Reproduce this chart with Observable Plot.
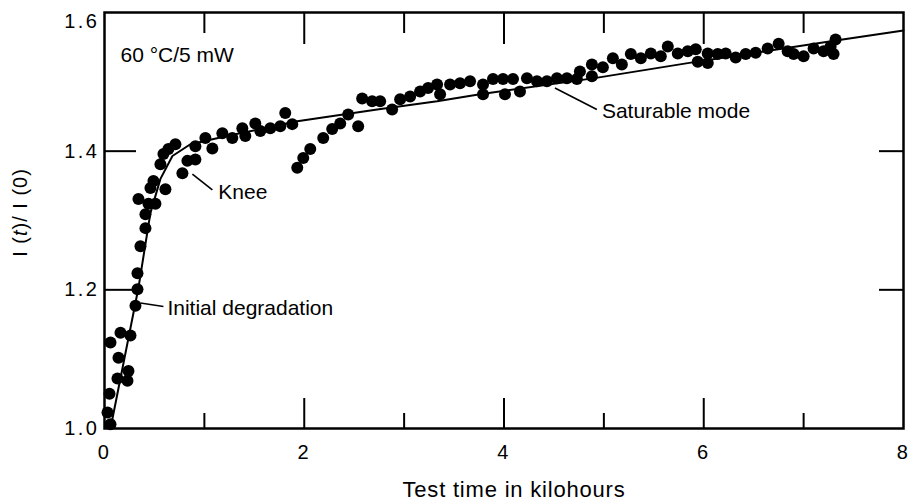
<!DOCTYPE html>
<html><head><meta charset="utf-8">
<script src="https://cdn.jsdelivr.net/npm/d3@7"></script>
<script src="https://cdn.jsdelivr.net/npm/@observablehq/plot@0.6"></script>
<style>
html,body{margin:0;padding:0;background:#fff;}
#chart svg{display:block;}
</style></head><body><div id="chart"></div>
<script>
// Measured points: test time (kilohours) and I(t)/I(0)
const timeKh = [0.06,0.03,0.05,0.13,0.23,0.24,0.14,0.06,0.16,0.26,0.31,0.33,0.33,0.36,0.41,0.41,0.44,0.34,0.51,0.46,0.61,0.49,0.56,0.59,0.64,0.71,0.78,0.83,0.91,0.91,1.01,1.08,1.18,1.28,1.38,1.41,1.51,1.56,1.66,1.76,1.81,1.88,
  1.93,1.99,2.06,2.19,2.28,2.36,2.44,2.54,2.58,2.68,2.76,2.88,2.96,3.06,3.16,3.24,3.33,3.36,3.46,3.56,3.66,3.79,3.79,3.89,3.99,4.01,4.09,4.16,4.23,4.33,4.43,4.53,4.63,4.73,4.76,4.88,4.88,4.99,
  5.09,5.18,5.27,5.37,5.47,5.57,5.64,5.74,5.84,5.92,5.94,6.04,6.04,6.14,6.22,6.32,6.42,6.52,6.64,6.75,6.84,6.90,7.00,7.10,7.20,7.27,7.30,7.32];
const ratio = [1.006,1.023,1.050,1.072,1.069,1.083,1.102,1.124,1.138,1.134,1.177,1.201,1.224,1.263,1.289,1.309,1.324,1.331,1.324,1.347,1.345,1.357,1.381,1.396,1.403,1.410,1.368,1.386,1.388,1.407,1.419,1.404,1.426,1.419,1.433,1.422,1.440,1.429,1.433,1.436,1.455,1.439,
  1.376,1.390,1.403,1.419,1.432,1.440,1.453,1.436,1.476,1.472,1.472,1.460,1.475,1.479,1.486,1.491,1.496,1.482,1.496,1.498,1.501,1.496,1.482,1.504,1.504,1.482,1.504,1.486,1.505,1.501,1.501,1.505,1.505,1.504,1.515,1.525,1.508,1.521,
  1.534,1.525,1.540,1.534,1.541,1.537,1.551,1.541,1.544,1.547,1.529,1.527,1.541,1.540,1.541,1.535,1.540,1.542,1.548,1.555,1.544,1.540,1.537,1.548,1.544,1.551,1.540,1.561];

// Fitted curve (initial degradation + saturable mode)
const fitTime  = [0.06,0.34,0.46,0.56,0.68,0.86,1.26,1.93,2.73,3.33,3.76,4.89,5.84,7.39,8.0];
const fitRatio = [1.000,1.203,1.311,1.360,1.393,1.410,1.423,1.443,1.460,1.472,1.482,1.505,1.527,1.561,1.574];

// Axes
const xLabelTicks = [0,2,4,6,8];
const xMajorTicks = [2,4,6];
const xMinorTicks = [1,3,5,7];
const yLabelTicks = [1.0,1.2,1.4];
const yTopLabel = [1.6];
const yInnerTicks = [1.2,1.4];
const xTitle = "Test time in kilohours";
const yTitle = "I (t)/ I (0)";

// Annotations
const noteText = ["60 °C/5 mW","Knee","Initial degradation","Saturable mode"];
const noteX = [0.16,1.14,0.63,4.98];
const noteY = [1.538,1.341,1.173,1.458];
const leadX1 = [0.88,0.36,4.51];
const leadY1 = [1.367,1.181,1.491];
const leadX2 = [1.08,0.59,4.93];
const leadY2 = [1.344,1.176,1.460];

const points = timeKh.map((x,i)=>({x, y: ratio[i]}));
const fit = fitTime.map((x,i)=>({x, y: fitRatio[i]}));
const notes = noteText.map((t,i)=>({t, x: noteX[i], y: noteY[i]}));
const leads = leadX1.map((x,i)=>({x1:x, y1:leadY1[i], x2:leadX2[i], y2:leadY2[i]}));

const chart = Plot.plot({
  width: 912, height: 503,
  marginLeft: 104, marginRight: 9, marginTop: 12, marginBottom: 75,
  style: {fontFamily: "'Liberation Sans', Arial, sans-serif", fontSize: "20px", color: "#000", background: "#fff"},
  x: {domain: [0, 8], label: null},
  y: {domain: [1.0, 1.6], label: null},
  marks: [
    Plot.line(fit, {x: "x", y: "y", stroke: "#000", strokeWidth: 2}),
    Plot.dot(points, {x: "x", y: "y", r: 6, fill: "#000", stroke: "none"}),
    Plot.link(leads, {x1: "x1", y1: "y1", x2: "x2", y2: "y2", stroke: "#000", strokeWidth: 1.6}),
    Plot.text(notes, {x: "x", y: "y", text: "t", textAnchor: "start", lineAnchor: "middle", fontSize: 21, fill: "#000"}),
    Plot.frame({stroke: "#000", strokeWidth: 2.5}),
    // inward ticks
    Plot.axisX({anchor: "bottom", ticks: xMajorTicks, tickSize: -30, strokeWidth: 2, fill: "none", label: null}),
    Plot.axisX({anchor: "bottom", ticks: xMinorTicks, tickSize: -15, strokeWidth: 2, fill: "none", label: null}),
    Plot.axisX({anchor: "top", ticks: xMajorTicks, tickSize: -31, strokeWidth: 2, fill: "none", label: null}),
    Plot.axisX({anchor: "top", ticks: xMinorTicks, tickSize: -20, strokeWidth: 2, fill: "none", label: null}),
    Plot.axisY({anchor: "left", ticks: yInnerTicks, tickSize: -32, strokeWidth: 2, fill: "none", label: null}),
    Plot.axisY({anchor: "right", ticks: yInnerTicks, tickSize: -25, strokeWidth: 2, fill: "none", label: null}),
    // tick labels
    Plot.axisX({anchor: "bottom", ticks: xLabelTicks, tickSize: 0, tickPadding: 16, label: null}),
    Plot.axisY({anchor: "left", ticks: yLabelTicks, tickSize: 0, tickPadding: 5, tickFormat: d3.format(".1f"), label: null}),
    Plot.axisY({anchor: "left", ticks: yTopLabel, tickSize: 0, tickPadding: 5, dy: 9, tickFormat: d3.format(".1f"), label: null}),
    // titles
    Plot.text([xTitle], {frameAnchor: "bottom", dx: 10, dy: 61, fontSize: 22, textAnchor: "middle", lineAnchor: "middle", fill: "#000"}),
    Plot.text([yTitle], {frameAnchor: "left", rotate: -90, dx: -84, dy: -8, fontSize: 20, textAnchor: "middle", lineAnchor: "middle", fill: "#000"})
  ]
});

document.getElementById("chart").appendChild(chart);
const svg = d3.select(chart);
svg.selectAll('g[aria-label="x-axis tick label"] text, g[aria-label="y-axis tick label"] text').style("letter-spacing", "2.5px");
svg.selectAll("text").each(function() {
  if (this.textContent === xTitle) d3.select(this).style("letter-spacing", "0.8px");
  if (this.textContent === yTitle) {
    const t = d3.select(this);
    t.style("letter-spacing", "1px");
    t.text(null);
    t.append("tspan").text("I (");
    t.append("tspan").style("font-style", "italic").text("t");
    t.append("tspan").text(")/ I (0)");
  }
});
</script>
</body></html>
